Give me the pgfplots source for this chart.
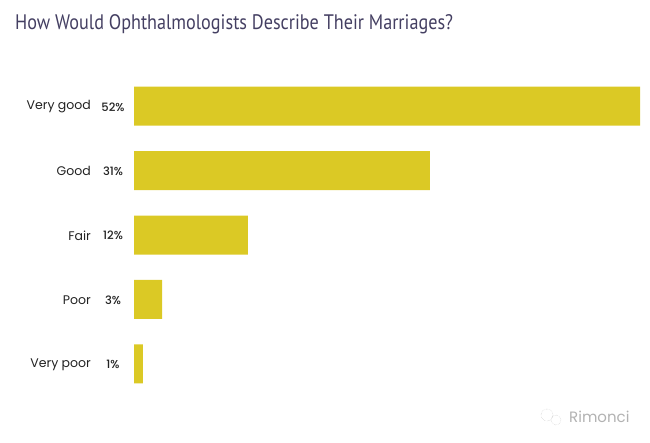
\documentclass[border=0pt]{standalone}
\usepackage{pgfplots}
\pgfplotsset{compat=1.18}
\usepackage{fontspec}
\setmainfont{Poppins}
\newfontfamily\titlefont[FakeStretch=0.865]{PT Sans}
\newfontfamily\pctfont{Poppins Medium}
\definecolor{baryellow}{HTML}{DBC925}
\definecolor{titlecol}{HTML}{443F62}
\definecolor{labelcol}{HTML}{222222}
\begin{document}
\begin{tikzpicture}[x=1pt,y=1pt]
\path[use as bounding box] (0,0) rectangle (650,442);
\begin{axis}[
	at={(134pt,46pt)},
	anchor=south west,
	width=506pt,
	height=322pt,
	scale only axis,
	xbar,
	bar width=39pt,
	xmin=0,xmax=52,
	ymin=-0.5,ymax=4.5,
	y dir=reverse,
	axis line style={draw=none},
	xtick=\empty,
	ytick=\empty,
	clip=false,
]
\addplot[draw=none,fill=baryellow] coordinates {(52,0) (30.4,1) (11.7,2) (2.9,3) (0.9,4)};
\end{axis}
\node[anchor=west,inner sep=0pt,text=titlecol,font=\titlefont\fontsize{21}{24}\selectfont] at (15,418) {How Would Ophthalmologists Describe Their Marriages?};
\foreach \y/\name/\pct in {335/Very good/52\%,271/Good/31\%,206.5/Fair/12\%,142/Poor/3\%,77.5/Very poor/1\%}{
	\node[anchor=east,inner sep=0pt,text=labelcol,font=\fontsize{12.5}{15}\selectfont] at (91,\y) {\name};
	\node[text=labelcol,inner sep=0pt,font=\pctfont\fontsize{11.5}{12}\selectfont] at (113,\y) {\pct};
}
\draw[gray!50,densely dotted] (547,27) circle (6);
\draw[gray!50,densely dotted] (556,22) circle (5);
\node[anchor=west,inner sep=0pt,text=gray!60,font=\fontsize{15}{15}\selectfont] at (569,25.5) {Rimonci};
\end{tikzpicture}
\end{document}
